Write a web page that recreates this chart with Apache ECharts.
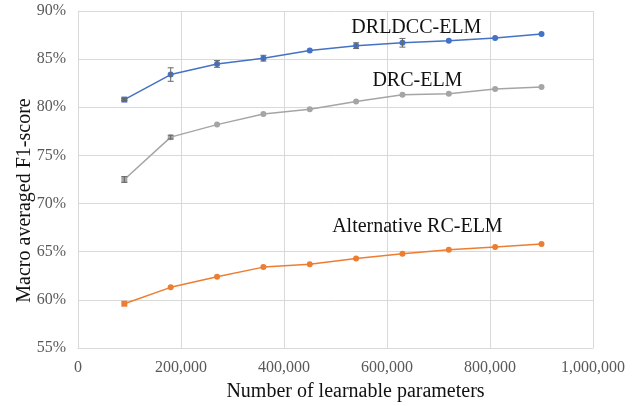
<!DOCTYPE html>
<html>
<head>
<meta charset="utf-8">
<script src="https://cdn.jsdelivr.net/npm/echarts@6/dist/echarts.min.js"></script>
<style>
  html, body { margin: 0; padding: 0; background: #fff; }
  #chart { width: 639px; height: 406px; }
</style>
</head>
<body>
<div id="chart"></div>
<script>
// 学习参数数量
const params = [90000, 180000, 270000, 360000, 450000, 540000, 630000, 720000, 810000, 900000];

// F1 (%)
const drldccElm = [80.8, 83.4, 84.5, 85.1, 85.9, 86.4, 86.7, 86.9, 87.2, 87.6];
const drldccErr = [0.1, 0.7, 0.35, 0.3, 0, 0.3, 0.45, 0, 0, 0];
const drcElm = [72.5, 76.9, 78.2, 79.3, 79.8, 80.6, 81.3, 81.4, 81.9, 82.1];
const drcErr = [0.3, 0.2, 0, 0, 0, 0, 0, 0, 0, 0];
const altRcElm = [59.6, 61.3, 62.4, 63.4, 63.7, 64.3, 64.8, 65.2, 65.5, 65.8];

const seriesNames = ['DRLDCC-ELM', 'DRC-ELM', 'Alternative RC-ELM'];
const labelAnchors = [[657000, 88.25], [659000, 82.75], [659000, 67.6]];

const serif = '"Liberation Serif", "DejaVu Serif", serif';
const chart = echarts.init(document.getElementById('chart'));

const toPoints = (vals) => vals.map((v, i) => ({
  value: [params[i], v],
  symbol: i === 0 ? 'rect' : 'circle',
}));

const lineSeries = (name, vals, color, anchor) => ({
  name,
  type: 'line',
  data: toPoints(vals),
  symbolSize: 6,
  itemStyle: { color },
  lineStyle: { color, width: 1.5 },
  z: 3,
  markPoint: {
    symbol: 'circle',
    symbolSize: 0,
    data: [{ coord: anchor }],
    label: {
      show: true,
      position: 'inside',
      formatter: name,
      color: '#111',
      fontFamily: serif,
      fontSize: 20,
    },
  },
});

// 误差线
const errSeries = (vals, errs) => ({
  type: 'custom',
  data: vals.map((v, i) => [params[i], v, errs[i]]).filter((d) => d[2] > 0),
  renderItem: (p, api) => {
    const x = api.value(0);
    const y = api.value(1);
    const e = api.value(2);
    const top = api.coord([x, y + e]);
    const bot = api.coord([x, y - e]);
    const w = 3;
    const style = { stroke: '#666', lineWidth: 1 };
    return {
      type: 'group',
      children: [
        { type: 'line', shape: { x1: top[0], y1: top[1], x2: bot[0], y2: bot[1] }, style },
        { type: 'line', shape: { x1: top[0] - w, y1: top[1], x2: top[0] + w, y2: top[1] }, style },
        { type: 'line', shape: { x1: bot[0] - w, y1: bot[1], x2: bot[0] + w, y2: bot[1] }, style },
      ],
    };
  },
  z: 4,
  silent: true,
});

chart.setOption({
  animation: false,
  backgroundColor: '#fff',
  grid: { left: 78, right: 46, top: 11, bottom: 58, outerBoundsMode: 'none', containLabel: false },
  xAxis: {
    type: 'value',
    min: 0,
    max: 1000000,
    interval: 200000,
    name: 'Number of learnable parameters',
    nameLocation: 'middle',
    nameGap: 34,
    nameMoveOverlap: false,
    nameTextStyle: { fontFamily: serif, fontSize: 20, color: '#111', padding: [0, 0, 0, 40] },
    axisLine: { show: true, lineStyle: { color: '#d9d9d9' } },
    axisTick: { show: false },
    axisLabel: {
      fontFamily: serif,
      fontSize: 16,
      color: '#595959',
      margin: 12,
      formatter: (v) => v.toLocaleString('en-US'),
    },
    splitLine: { show: true, lineStyle: { color: '#d9d9d9' } },
  },
  yAxis: {
    type: 'value',
    min: 55,
    max: 90,
    interval: 5,
    name: 'Macro averaged F1-score',
    nameLocation: 'middle',
    nameGap: 43,
    nameMoveOverlap: false,
    nameTextStyle: { fontFamily: serif, fontSize: 20, color: '#111', padding: [0, 42, 0, 0] },
    axisLine: { show: true, lineStyle: { color: '#d9d9d9' } },
    axisTick: { show: false },
    axisLabel: {
      fontFamily: serif,
      fontSize: 16,
      color: '#595959',
      margin: 12,
      formatter: '{value}%',
    },
    splitLine: { show: true, lineStyle: { color: '#d9d9d9' } },
  },
  series: [
    lineSeries(seriesNames[0], drldccElm, '#4472C4', labelAnchors[0]),
    lineSeries(seriesNames[1], drcElm, '#A5A5A5', labelAnchors[1]),
    lineSeries(seriesNames[2], altRcElm, '#ED7D31', labelAnchors[2]),
    errSeries(drldccElm, drldccErr),
    errSeries(drcElm, drcErr),
  ],
});
</script>
</body>
</html>
